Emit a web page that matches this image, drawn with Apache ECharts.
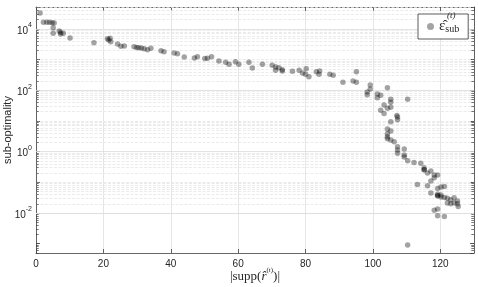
<!DOCTYPE html>
<html><head><meta charset="utf-8">
<script src="https://cdn.jsdelivr.net/npm/echarts@6/dist/echarts.min.js"></script>
<style>html,body{margin:0;padding:0;background:#fff}#c{width:478px;height:287px}</style>
</head><body><div id="c"></div>
<script>
// |supp(r^(t))| values
const supportSize = [
  1.2, 2.2, 3.2, 4.0, 4.8, 5.4, 5.1, 5.1, 6.9, 7.3,
  7.3, 8.1, 10.1, 17.2, 21.2, 22.0, 22.2, 21.6, 24.2, 25.2,
  26.2, 29.1, 29.9, 30.5, 31.3, 32.1, 33.1, 34.1, 37.1, 38.0,
  41.0, 42.0, 44.0, 47.0, 47.9, 50.1, 50.9, 52.1, 54.3, 56.3,
  57.3, 59.2, 60.2, 63.2, 64.2, 67.2, 70.1, 71.1, 72.1, 71.1,
  73.1, 73.1, 76.1, 78.1, 79.1, 80.2, 80.0, 81.0, 83.2, 84.2,
  84.0, 87.2, 88.2, 91.1, 94.1, 95.1, 95.1, 98.3, 98.3, 99.2,
  99.2, 101.3, 102.3, 101.3, 104.3, 110.3, 105.3, 105.3, 105.3, 104.3,
  103.3, 102.3, 103.3, 107.1, 107.3, 107.3, 105.3, 104.3, 105.3, 104.3,
  104.3, 104.3, 105.3, 106.3, 107.3, 107.3, 109.3, 109.3, 107.3, 109.3,
  110.3, 112.2, 114.2, 115.2, 115.2, 115.2, 117.2, 116.2, 118.2, 119.2,
  118.2, 117.2, 116.2, 113.2, 119.2, 120.2, 121.2, 117.2, 119.2, 119.2,
  119.2, 120.2, 120.2, 121.2, 122.1, 123.1, 122.1, 124.1, 125.1, 124.1,
  125.1, 123.1, 125.3, 119.2, 118.2, 119.2, 121.2, 110.3
];
// sub-optimality values
const subOptimality = [
  33100, 16600, 16600, 16600, 16000, 15500, 11000, 7200, 8600, 7700,
  6900, 7200, 5100, 3570, 4830, 4940, 3850, 4380, 3240, 2710,
  2790, 2650, 2510, 2450, 2400, 2280, 2110, 2330, 1960, 1820,
  1650, 1570, 1220, 1130, 1250, 1080, 1100, 1250, 906, 815,
  701, 859, 701, 815, 535, 701, 650, 577, 547, 447,
  471, 428, 415, 447, 367, 508, 331, 279, 406, 428,
  331, 331, 307, 182, 202, 182, 406, 88.3, 72.1, 111,
  149, 76.0, 68.4, 57.5, 122, 50.7, 50.7, 40.5, 27.8, 25.8,
  33.3, 22.2, 17.7, 15.2, 13.5, 11.0, 9.5, 5.48, 4.72, 3.85,
  3.08, 2.65, 2.40, 2.11, 1.45, 1.14, 1.22, 0.780, 0.879, 0.671,
  0.508, 0.447, 0.415, 0.301, 0.258, 0.258, 0.234, 0.202, 0.174, 0.174,
  0.142, 0.111, 0.0778, 0.0857, 0.0635, 0.0705, 0.0738, 0.0450, 0.0405, 0.0367,
  0.0367, 0.0387, 0.0333, 0.0323, 0.0300, 0.0272, 0.0212, 0.0212, 0.0201, 0.0316,
  0.0247, 0.0201, 0.0164, 0.0135, 0.0122, 0.00817, 0.00776, 0.000906
];
const xTicks = [0, 20, 40, 60, 80, 100, 120];
const yLabelExponents = [-2, 0, 2, 4];
const yMin = Math.pow(10, -3.304), yMax = Math.pow(10, 4.716);
const xMin = 0, xMax = 130;

const axisColor = '#404040';
const textColor = '#262626';
const sans = 'Liberation Sans, Arial, Helvetica, sans-serif';
const serif = 'Liberation Serif, DejaVu Serif, serif';

// grid lines (log positions)
const majorVals = [], minorVals = [];
for (let d = -4; d <= 4; d++) {
  for (let k = 1; k <= 9; k++) {
    const v = k * Math.pow(10, d);
    if (v < yMin || v > yMax) continue;
    if (k === 1 && yLabelExponents.indexOf(d) >= 0) majorVals.push(v);
    else minorVals.push(v);
  }
}
const gridLines = [];
minorVals.forEach(v => gridLines.push({ yAxis: v, lineStyle: { color: '#e6e6e6', type: [3, 1.5], width: 0.8 } }));
majorVals.forEach(v => gridLines.push({ yAxis: v, lineStyle: { color: '#dcdcdc', type: 'solid', width: 0.8 } }));
// short minor tick marks on left and right axes
const tickStyle = { color: axisColor, type: 'solid', width: 0.7 };
minorVals.forEach(v => {
  gridLines.push([{ coord: [xMin, v], lineStyle: tickStyle }, { coord: [xMin + 0.8, v] }]);
  gridLines.push([{ coord: [xMax - 0.8, v], lineStyle: tickStyle }, { coord: [xMax, v] }]);
});

const points = supportSize.map((x, i) => [x, subOptimality[i]]);

function yLabel(v) {
  const e = Math.round(Math.log10(v));
  if (Math.abs(Math.log10(v) - e) > 1e-6) return '';
  if (yLabelExponents.indexOf(e) < 0) return '';
  return '{b|10}{e|' + e + '}';
}

const chart = echarts.init(document.getElementById('c'), null, { renderer: 'canvas' });
chart.setOption({
  animation: false,
  backgroundColor: '#fff',
  grid: { left: 36, right: 4, top: 7, bottom: 34, show: false, containLabel: false, outerBoundsMode: 'none' },
  legend: {
    data: ['eps'],
    left: 418, top: 14,
    padding: [5, 9, 5, 9],
    backgroundColor: '#fff',
    borderColor: '#333', borderWidth: 0.8, borderRadius: 0,
    icon: 'circle', itemWidth: 7, itemHeight: 7,
    formatter: () => '{e|ε̂}{s|sub}',
    textStyle: {
      rich: {
        e: { fontFamily: serif, fontSize: 15, color: textColor, lineHeight: 15, verticalAlign: 'bottom' },
        s: { fontFamily: serif, fontSize: 10, color: textColor, lineHeight: 10, verticalAlign: 'bottom', padding: [4, 0, 0, 0] }
      }
    }
  },
  graphic: [{
    type: 'text', left: 447, top: 11, z: 100,
    style: { text: '(t)', font: 'italic 9px ' + serif, fill: textColor }
  }],
  xAxis: [{
    type: 'value', min: xMin, max: xMax, interval: 20, position: 'bottom',
    axisLine: { show: true, onZero: false, lineStyle: { color: axisColor, width: 0.8 } },
    axisTick: { show: true, inside: true, length: 4, lineStyle: { color: axisColor, width: 0.8 } },
    axisLabel: { color: textColor, fontFamily: sans, fontSize: 10, margin: 6, showMaxLabel: false,
      formatter: v => xTicks.indexOf(v) >= 0 ? String(v) : '' },
    splitLine: { show: true, lineStyle: { color: '#e0e0e0', width: 0.8 } },
    name: '{n||supp(}{i|r̂}{s|(t)}{n|)|}',
    nameLocation: 'middle', nameGap: 14, nameMoveOverlap: false,
    nameTextStyle: {
      rich: {
        n: { fontFamily: serif, fontSize: 13, color: textColor, lineHeight: 16, verticalAlign: 'bottom' },
        i: { fontFamily: serif, fontStyle: 'italic', fontSize: 13, color: textColor, lineHeight: 16, verticalAlign: 'bottom' },
        s: { fontFamily: serif, fontSize: 7, color: textColor, lineHeight: 16, verticalAlign: 'top' }
      }
    }
  }, {
    type: 'value', min: xMin, max: xMax, interval: 20, position: 'top',
    axisLine: { show: true, onZero: false, lineStyle: { color: axisColor, width: 0.8 } },
    axisTick: { show: true, inside: true, length: 4, lineStyle: { color: axisColor, width: 0.8 } },
    axisLabel: { show: false }, splitLine: { show: false }
  }],
  yAxis: [{
    type: 'log', logBase: 10, min: yMin, max: yMax, position: 'left',
    axisLine: { show: true, onZero: false, lineStyle: { color: axisColor, width: 0.8 } },
    axisTick: { show: true, inside: true, length: 4, lineStyle: { color: axisColor, width: 0.8 } },
    axisLabel: { showMinLabel: false, showMaxLabel: false, margin: 4, formatter: yLabel,
      rich: {
        b: { fontFamily: sans, fontSize: 10, color: textColor, lineHeight: 14, verticalAlign: 'bottom' },
        e: { fontFamily: sans, fontSize: 7, color: textColor, lineHeight: 14, verticalAlign: 'top' }
      } },
    splitLine: { show: false },
    name: 'sub-optimality', nameLocation: 'middle', nameGap: 23, nameMoveOverlap: false,
    nameTextStyle: { fontFamily: sans, fontSize: 11, color: textColor }
  }, {
    type: 'log', logBase: 10, min: yMin, max: yMax, position: 'right',
    axisLine: { show: true, onZero: false, lineStyle: { color: axisColor, width: 0.8 } },
    axisTick: { show: true, inside: true, length: 4, lineStyle: { color: axisColor, width: 0.8 } },
    axisLabel: { show: false }, splitLine: { show: false }
  }],
  series: [{
    name: 'eps', type: 'scatter', xAxisIndex: 0, yAxisIndex: 0,
    data: points, symbolSize: 5.5, z: 3,
    itemStyle: { color: 'rgba(0,0,0,0.45)', borderWidth: 0 },
    markLine: { silent: true, symbol: 'none', z: 1, animation: false, label: { show: false },
      emphasis: { disabled: true }, data: gridLines }
  }]
});
</script></body></html>
